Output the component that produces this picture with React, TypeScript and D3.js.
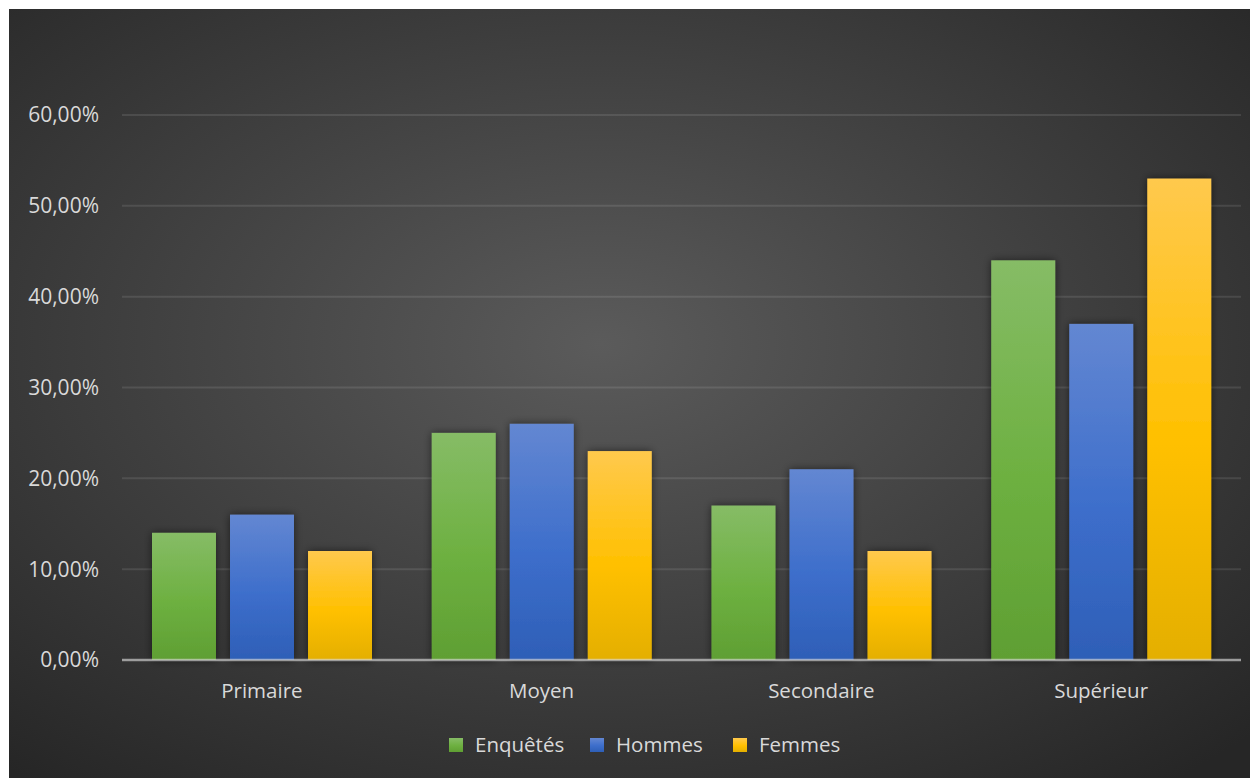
import React from "react";
import * as d3 from "d3";

const categories = ["Primaire", "Moyen", "Secondaire", "Supérieur"];
const seriesNames = ["Enquêtés", "Hommes", "Femmes"];
const enquetes = [14, 25, 17, 44];
const hommes = [16, 26, 21, 37];
const femmes = [12, 23, 12, 53];
const yTicks = [0, 10, 20, 30, 40, 50, 60];

const seriesValues = [enquetes, hommes, femmes];
const gradStops = [
  ["#86bc66", "#6db040", "#5f9f33"],
  ["#6387d2", "#3d6ecb", "#2e5fb7"],
  ["#ffc94d", "#ffc000", "#e4af00"],
];

export default function App() {
  const W = 1250, H = 770;
  const ox = 1, oy = 1;
  const left = 114, right = 1233, y0 = 652, yTop = 107;
  const x = d3.scaleBand().domain(categories).range([left, right]).paddingInner(0).paddingOuter(0);
  const y = d3.scaleLinear().domain([0, 60]).range([y0, yTop]);
  const sub = d3.scaleBand().domain(seriesNames).range([0, 220]).paddingInner(0.18).paddingOuter(0);
  const fmt = (v: number) => v.toFixed(2).replace(".", ",") + "%";
  const font = "'Open Sans', 'Noto Sans', sans-serif";
  const legendX = [441, 582, 725];

  return (
    <svg width={W + 10} height={H + 10} style={{ display: "block" }}>
      <defs>
        <radialGradient id="bg" cx="0.47" cy="0.43" r="0.72" gradientUnits="objectBoundingBox">
          <stop offset="0" stopColor="#5b5b5b" />
          <stop offset="1" stopColor="#262626" />
        </radialGradient>
        {gradStops.map((g, i) => (
          <linearGradient key={i} id={`g${i}`} x1="0" y1="0" x2="0" y2="1">
            <stop offset="0" stopColor={g[0]} />
            <stop offset="0.55" stopColor={g[1]} />
            <stop offset="1" stopColor={g[2]} />
          </linearGradient>
        ))}
        <filter id="sh" x="-30%" y="-10%" width="160%" height="120%">
          <feGaussianBlur in="SourceAlpha" stdDeviation="4" />
          <feOffset dx="0" dy="0" />
          <feComponentTransfer>
            <feFuncA type="linear" slope="0.55" />
          </feComponentTransfer>
          <feMerge>
            <feMergeNode />
            <feMergeNode in="SourceGraphic" />
          </feMerge>
        </filter>
      </defs>
      <rect x={ox} y={oy} width={W + 10} height={H + 10} fill="url(#bg)" />
      {yTicks.slice(1).map((t) => (
        <line key={t} x1={left} x2={right} y1={y(t)} y2={y(t)} stroke="#ffffff" strokeOpacity={0.1} strokeWidth={2} />
      ))}
      {yTicks.map((t) => (
        <text key={t} x={91} y={y(t)} dy="0.35em" textAnchor="end" fill="#d9d9d9" fontSize={21} fontFamily={font}>
          {fmt(t)}
        </text>
      ))}
      {categories.map((c, ci) => (
        <g key={c} transform={`translate(${(x(c) as number) + 30},0)`}>
          {seriesNames.map((s, si) => {
            const v = seriesValues[si][ci];
            return (
              <rect
                key={s}
                x={sub(s)}
                y={y(v)}
                width={sub.bandwidth()}
                height={y0 - y(v)}
                fill={`url(#g${si})`}
                filter="url(#sh)"
              />
            );
          })}
        </g>
      ))}
      <line x1={left} x2={right} y1={y0} y2={y0} stroke="#d9d9d9" strokeOpacity={0.65} strokeWidth={2.5} />
      {categories.map((c) => (
        <text key={c} x={(x(c) as number) + x.bandwidth() / 2} y={683} dy="0.35em" textAnchor="middle" fill="#d9d9d9" fontSize={20.5} fontFamily={font}>
          {c}
        </text>
      ))}
      {seriesNames.map((s, i) => (
        <g key={s} transform={`translate(${legendX[i]},730)`}>
          <rect x={0} y={0} width={14} height={14} fill={`url(#g${i})`} />
          <text x={26} y={7} dy="0.35em" fill="#d9d9d9" fontSize={20.5} fontFamily={font}>
            {s}
          </text>
        </g>
      ))}
    </svg>
  );
}
